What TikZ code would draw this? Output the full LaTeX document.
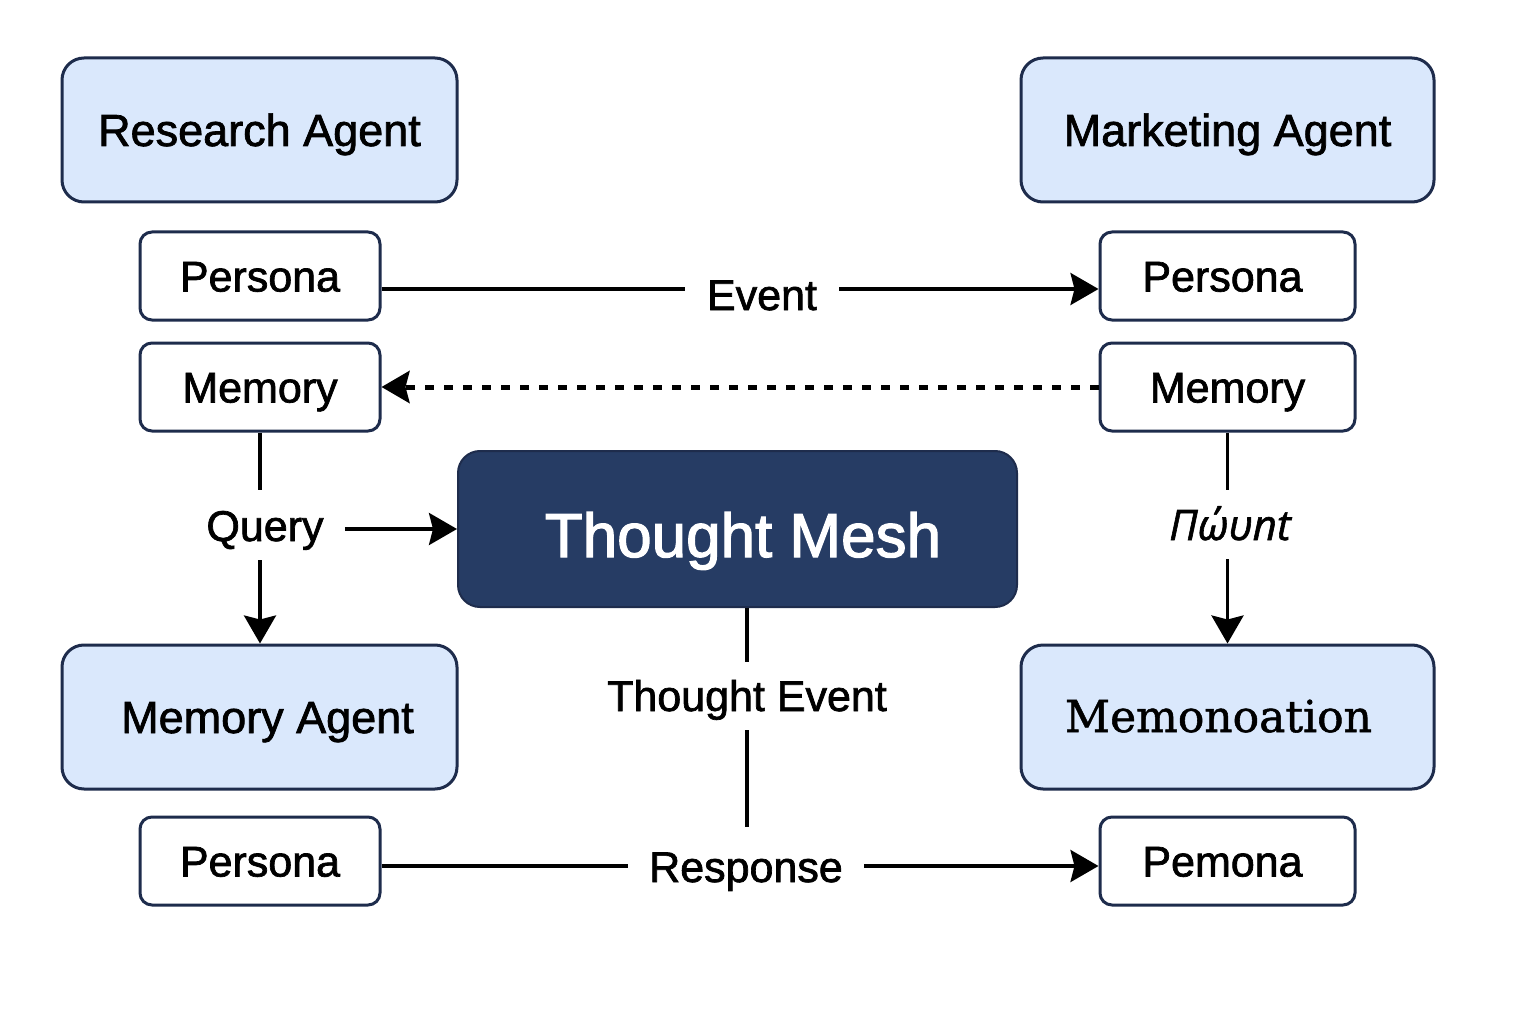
\documentclass[tikz,border=0pt]{standalone}
\usepackage{fontspec}
\setmainfont{Liberation Sans}[FakeBold=1.6]
\newfontfamily\meshfont{Liberation Sans}[FakeBold=2.0]
\newfontfamily\serifb{DejaVu Serif}[FakeBold=1.2]
\newfontfamily\greekit{Open Sans Italic}[FakeBold=1.4]
\usetikzlibrary{arrows.meta}
\definecolor{boxblue}{HTML}{DAE8FC}
\definecolor{navy}{HTML}{1E2C4C}
\definecolor{mesh}{HTML}{263C64}
\tikzset{
  agent/.style={draw=navy, fill=boxblue, line width=3pt, rounded corners=22pt,
    minimum height=144pt, inner sep=0pt, text height=32pt, text depth=0pt,
    font=\fontsize{45}{54}\selectfont},
  small/.style={draw=navy, fill=white, line width=3pt, rounded corners=12pt,
    minimum height=88pt, inner sep=0pt, text height=31pt, text depth=0pt,
    font=\fontsize{43}{52}\selectfont},
  meshbox/.style={draw=navy, fill=mesh, line width=2pt, rounded corners=22pt,
    minimum width=559pt, minimum height=156pt, inner sep=0pt, text=white,
    text height=56pt, text depth=0pt, font=\meshfont\fontsize{62}{74}\selectfont},
  lbl/.style={font=\fontsize{43}{52}\selectfont, anchor=base, inner ysep=0pt},
  conn/.style={line width=3.5pt, draw=black},
  tip/.style={-{Stealth[length=28pt,width=32pt,inset=4pt]}},
  dotconn/.style={line width=5pt, dash pattern=on 9pt off 10pt}
}
\begin{document}
\begin{tikzpicture}[x=1pt,y=-1pt]
\useasboundingbox[fill=white] (0,0) rectangle (1536,1024);
% agents
\node[agent, minimum width=395pt] (ra) at (259.5,130) {Research Agent};
\node[agent, minimum width=413pt] (mka) at (1227.5,130) {Marketing Agent};
\node[agent, minimum width=395pt] (ma) at (259.5,717) {\rule{16pt}{0pt}Memory Agent};
\node[agent, minimum width=413pt, text height=30pt, font=\serifb\fontsize{44}{52}\selectfont] (mc) at (1227.5,717) {Memonoation\rule{18pt}{0pt}};
% small boxes
\node[small, minimum width=240pt] (pl) at (260,276) {Persona};
\node[small, minimum width=240pt] (ml) at (260,387) {Memory};
\node[small, minimum width=255pt] (pr) at (1227.5,276) {Persona\rule{10pt}{0pt}};
\node[small, minimum width=255pt] (mr) at (1227.5,387) {Memory};
\node[small, minimum width=255pt] (pm) at (1227.5,861) {Pemona\rule{10pt}{0pt}};
\node[small, minimum width=240pt] (pb) at (260,861) {Persona};
% mesh
\node[meshbox] (tm) at (737.5,529) {\rule{11pt}{0pt}Thought Mesh};
% labels
\node[lbl, inner xsep=22pt] (ev) at (762,310) {Event};
\node[lbl, inner xsep=21pt, text height=51pt, text depth=19pt] (q) at (265,541) {Query};
\node[lbl, inner xsep=21pt, text height=50pt, text depth=19pt, font=\greekit\fontsize{42}{50}\selectfont] (tw) at (1230,540) {Πώυnt};
\node[lbl, inner xsep=10pt, text height=49pt, text depth=19pt] (te) at (747,711) {Thought Event};
\node[lbl, inner xsep=21pt, text height=55pt, text depth=10pt] (rs) at (746,882) {Response};
% connectors
\draw[conn] ([yshift=-13pt]pl.east) -- ([yshift=-13pt]pl.east -| ev.west);
\draw[conn, tip] ([yshift=-13pt]pl.east -| ev.east) -- ([yshift=-13pt]pr.west);
\draw[dotconn, tip] (mr.west) -- (ml.east);
\draw[conn] (ml.south) -- (ml.south |- q.north);
\draw[conn, tip] (ml.south |- q.south) -- (ma.north -| ml.south);
\draw[conn, tip] (q.east |- tm.west) -- (tm.west);
\draw[conn] (mr.south) -- (mr.south |- tw.north);
\draw[conn, tip] (mr.south |- tw.south) -- (mc.north);
\draw[conn] (te.north |- tm.south) -- (te.north);
\draw[conn] (te.south) -- (te.south |- rs.north);
\draw[conn] ([yshift=-5pt]pb.east) -- ([yshift=-5pt]pb.east -| rs.west);
\draw[conn, tip] ([yshift=-5pt]pb.east -| rs.east) -- ([yshift=-5pt]pm.west);
\end{tikzpicture}
\end{document}
